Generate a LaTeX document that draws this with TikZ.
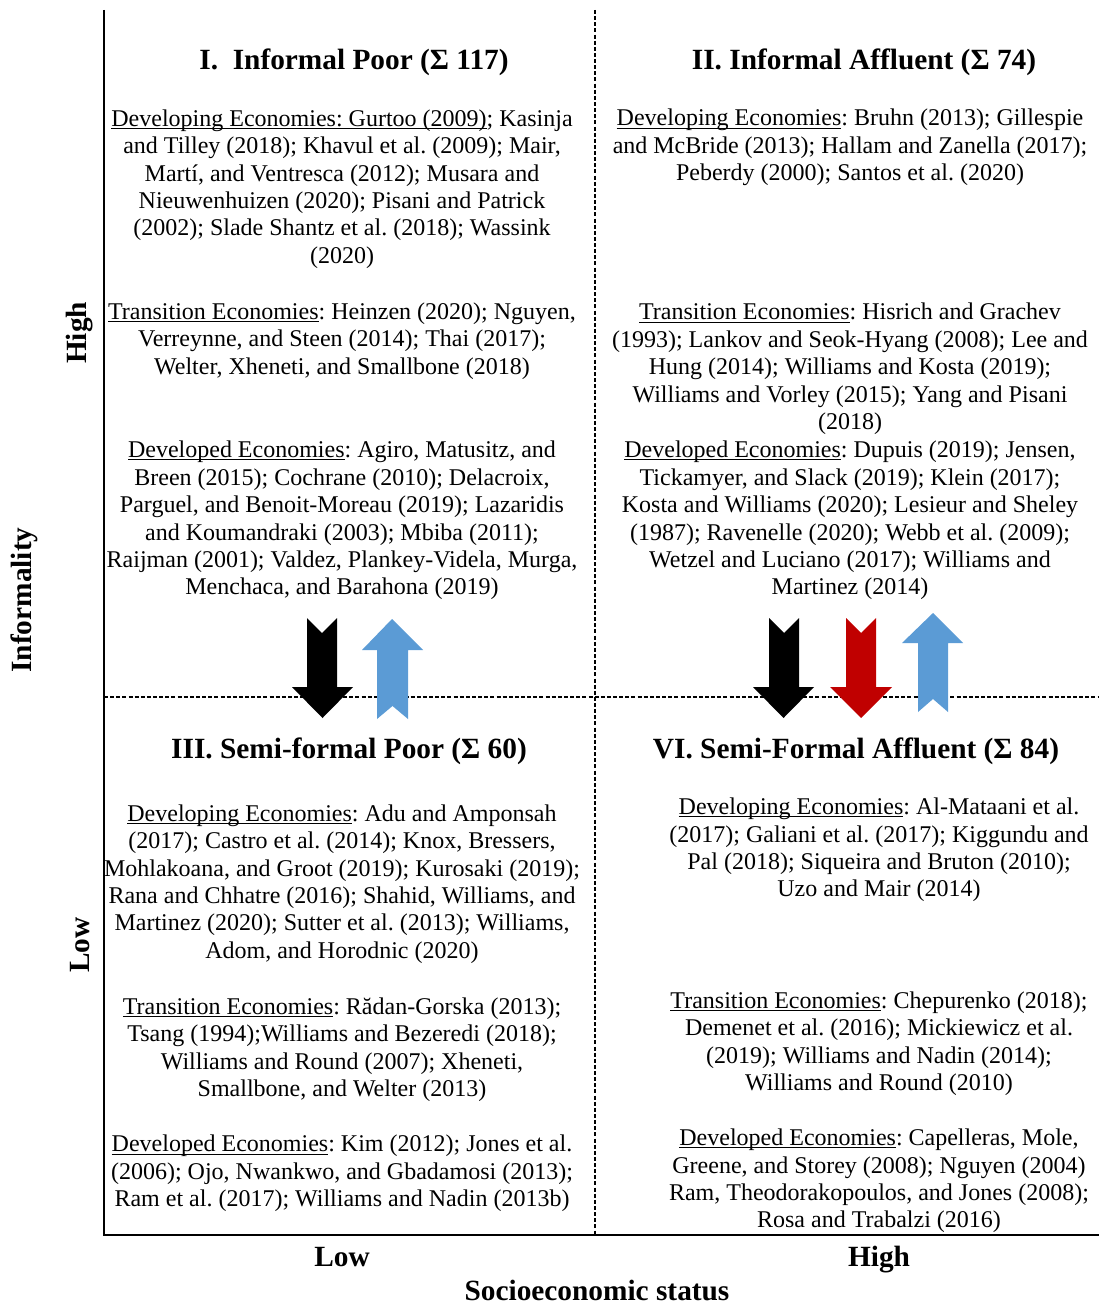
\documentclass[tikz,border=0pt]{standalone}
\usepackage{fontspec}
\setmainfont{Liberation Serif}
\frenchspacing
\definecolor{upblue}{HTML}{5B9BD5}
\definecolor{downred}{HTML}{C00000}
\newcommand{\undl}[1]{\setbox0\hbox{#1}\rlap{\rule[-1.9pt]{\wd0}{0.6pt}}\box0}
\tikzset{
  body/.style={align=center, inner sep=0pt, font=\fontsize{18}{20.6}\selectfont\frenchspacing},
  ttl/.style={inner sep=0pt, font=\fontsize{22}{25}\selectfont\bfseries},
  axlab/.style={inner sep=0pt, font=\fontsize{22}{25}\selectfont\bfseries},
  axisline/.style={line width=1.1pt},
  divline/.style={line width=0.9pt, dash pattern=on 3pt off 1.6pt},
}
\newcommand{\dnarrow}[5]{% shaftL shaftR headL headR colour
  \fill[#5] ({#1},618) -- ({(#1+#2)/2},633) -- ({#2},618) -- ({#2},687) -- ({#4},687) -- ({(#3+#4)/2},718) -- ({#3},687) -- ({#1},687) -- cycle;}
\begin{document}
\begin{tikzpicture}[x=0.75pt,y=-0.75pt]
\useasboundingbox (0,0) rectangle (1099,1305);
% frame coordinates
\coordinate (axtop) at (104,10);
\coordinate (origin) at (104,1235);
\coordinate (axright) at (1099,1235);
\coordinate (midtop) at (595,10);
\coordinate (midbot) at (595,1235);
\coordinate (hl) at (104,697);
\coordinate (hr) at (1099,697);
\draw[divline] (midtop) -- (midbot);
\draw[divline] (hl) -- (hr);
\draw[axisline] (axtop) -- (origin) -- (axright);

% titles
\node[ttl] (t1) at (354,62) {I.\ \ Informal Poor (Σ 117)};
\node[ttl] (t2) at (864,62) {II. Informal Affluent (Σ 74)};
\node[ttl] (t3) at (349,751) {III. Semi-formal Poor (Σ 60)};
\node[ttl] (t4) at (856,751) {VI. Semi-Formal Affluent (Σ 84)};

% quadrant I
\node[body] (q1a) at (342,189) {\undl{Developing Economies: Gurtoo (2009)}; Kasinja\\
and Tilley (2018); Khavul et al. (2009); Mair,\\
Martí, and Ventresca (2012); Musara and\\
Nieuwenhuizen (2020); Pisani and Patrick\\
(2002); Slade Shantz et al. (2018); Wassink\\
(2020)};
\node[body] (q1b) at (342,341) {\undl{Transition Economies}: Heinzen (2020); Nguyen,\\
Verreynne, and Steen (2014); Thai (2017);\\
Welter, Xheneti, and Smallbone (2018)};
\node[body] (q1c) at (342,520.5) {\undl{Developed Economies}: Agiro, Matusitz, and\\
Breen (2015); Cochrane (2010); Delacroix,\\
Parguel, and Benoit-Moreau (2019); Lazaridis\\
and Koumandraki (2003); Mbiba (2011);\\
Raijman (2001); Valdez, Plankey-Videla, Murga,\\
Menchaca, and Barahona (2019)};

% quadrant II
\node[body] (q2a) at (850,147.5) {\undl{Developing Economies}: Bruhn (2013); Gillespie\\
and McBride (2013); Hallam and Zanella (2017);\\
Peberdy (2000); Santos et al. (2020)};
\node[body] (q2b) at (850,369) {\undl{Transition Economies}: Hisrich and Grachev\\
(1993); Lankov and Seok-Hyang (2008); Lee and\\
Hung (2014); Williams and Kosta (2019);\\
Williams and Vorley (2015); Yang and Pisani\\
(2018)};
\node[body] (q2c) at (850,520.5) {\undl{Developed Economies}: Dupuis (2019); Jensen,\\
Tickamyer, and Slack (2019); Klein (2017);\\
Kosta and Williams (2020); Lesieur and Sheley\\
(1987); Ravenelle (2020); Webb et al. (2009);\\
Wetzel and Luciano (2017); Williams and\\
Martinez (2014)};

% quadrant III
\node[body] (q3a) at (342,884) {\undl{Developing Economies}: Adu and Amponsah\\
(2017); Castro et al. (2014); Knox, Bressers,\\
Mohlakoana, and Groot (2019); Kurosaki (2019);\\
Rana and Chhatre (2016); Shahid, Williams, and\\
Martinez (2020); Sutter et al. (2013); Williams,\\
Adom, and Horodnic (2020)};
\node[body] (q3b) at (342,1049.5) {\undl{Transition Economies}: Rădan-Gorska (2013);\\
Tsang (1994);Williams and Bezeredi (2018);\\
Williams and Round (2007); Xheneti,\\
Smallbone, and Welter (2013)};
\node[body] (q3c) at (342,1173.5) {\undl{Developed Economies}: Kim (2012); Jones et al.\\
(2006); Ojo, Nwankwo, and Gbadamosi (2013);\\
Ram et al. (2017); Williams and Nadin (2013b)};

% quadrant VI
\node[body] (q4a) at (879,850) {\undl{Developing Economies}: Al-Mataani et al.\\
(2017); Galiani et al. (2017); Kiggundu and\\
Pal (2018); Siqueira and Bruton (2010);\\
Uzo and Mair (2014)};
\node[body] (q4b) at (879,1043.5) {\undl{Transition Economies}: Chepurenko (2018);\\
Demenet et al. (2016); Mickiewicz et al.\\
(2019); Williams and Nadin (2014);\\
Williams and Round (2010)};
\node[body] (q4c) at (879,1181) {\undl{Developed Economies}: Capelleras, Mole,\\
Greene, and Storey (2008); Nguyen (2004)\\
Ram, Theodorakopoulos, and Jones (2008);\\
Rosa and Trabalzi (2016)};

% axis labels
\node[axlab, rotate=90] (yhigh) at (80,333) {High};
\node[axlab, rotate=90] (ylow) at (80,945) {Low};
\node[axlab, rotate=90] (ylab) at (24,600) {Informality};
\node[axlab, anchor=base] (xlow) at (342,1266) {Low};
\node[axlab, anchor=base] (xhigh) at (879,1266) {High};
\node[axlab] (xlab) at (597,1290) {Socioeconomic status};

% block arrows
\dnarrow{307}{337}{292}{353}{black}
\dnarrow{769}{799}{753}{814}{black}
\dnarrow{846}{876}{830}{892}{downred}
\fill[upblue] (392,619) -- (423,650) -- (408,650) -- (408,719) -- (392.5,706) -- (377,719) -- (377,650) -- (362,650) -- cycle;
\fill[upblue] (933,613) -- (963,643) -- (948,643) -- (948,712) -- (933,699) -- (918,712) -- (918,643) -- (902,643) -- cycle;
\end{tikzpicture}
\end{document}
